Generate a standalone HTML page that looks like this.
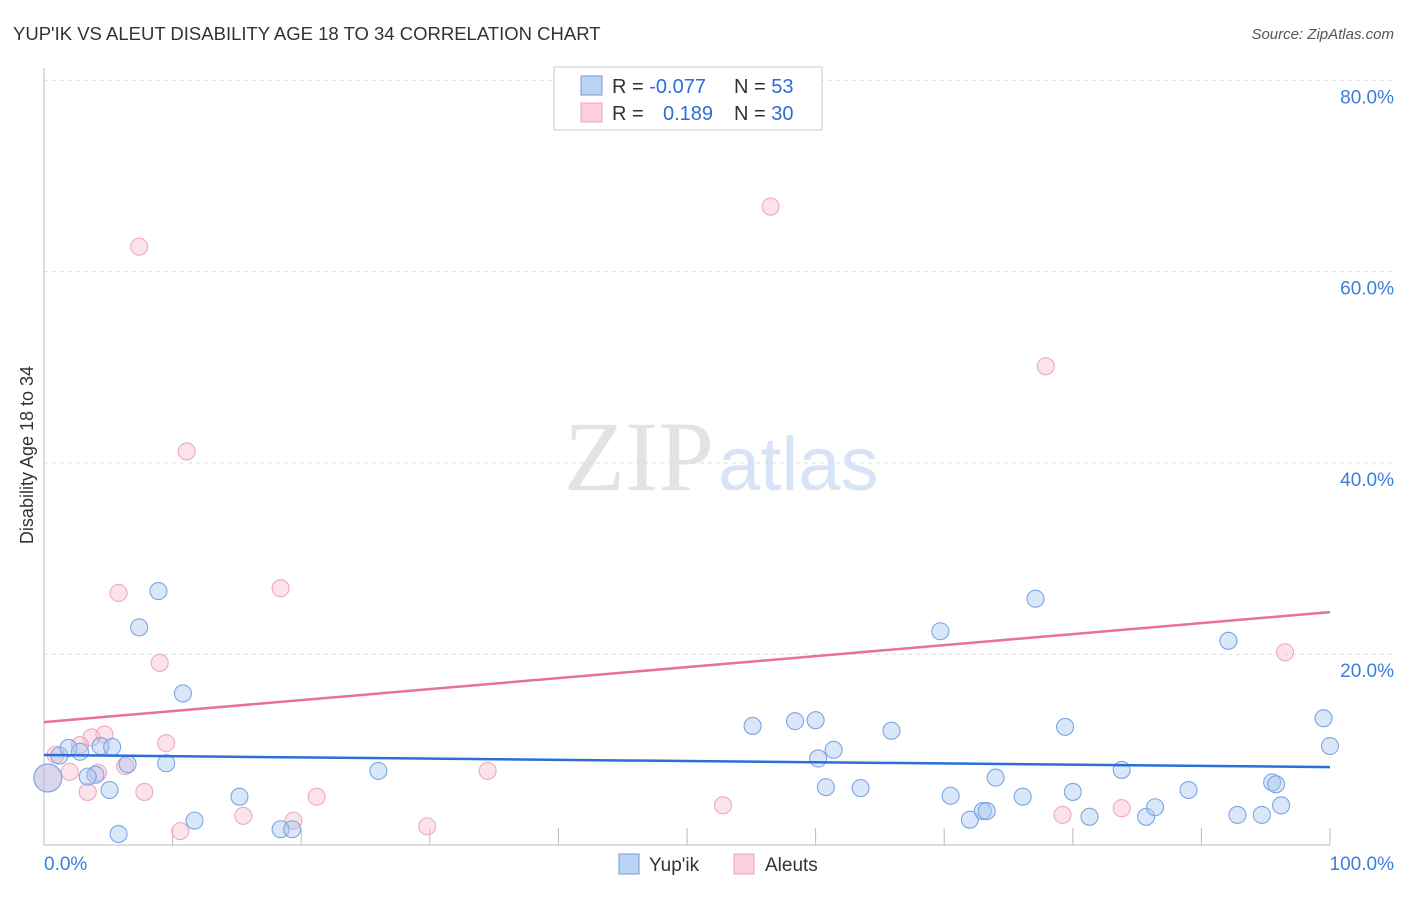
<!DOCTYPE html>
<html><head><meta charset="utf-8"><style>
body{margin:0;background:#fff;font-family:"Liberation Sans",sans-serif;}
</style></head><body>
<svg id="chart" width="1406" height="892" xmlns="http://www.w3.org/2000/svg">
<text x="13" y="40" font-size="18.5" fill="#333">YUP'IK VS ALEUT DISABILITY AGE 18 TO 34 CORRELATION CHART</text>
<text x="1394" y="39" font-size="15" fill="#555" font-style="italic" text-anchor="end">Source: ZipAtlas.com</text>
<text x="714" y="490" font-size="100" fill="#e3e3e3" text-anchor="end" font-family="Liberation Serif,serif">ZIP</text>
<text x="718" y="490" font-size="76" fill="#d6e4f5">atlas</text>
<text transform="translate(33,455) rotate(-90)" font-size="18" fill="#333" text-anchor="middle">Disability Age 18 to 34</text>
<g id="grid"></g><g id="pts"></g><g id="lines"></g>
<rect x="554" y="67" width="268" height="63" fill="#fff" stroke="#ccc"/>
<rect x="581" y="76" width="21" height="19" fill="#bcd4f4" stroke="#6b9be0"/>
<rect x="581" y="103" width="21" height="19" fill="#fbd0dc" stroke="#f0a0b8"/>
<g font-size="20" fill="#333">
<text x="612" y="93">R = <tspan fill="#2a6fd6">-0.077</tspan></text>
<text x="734" y="93">N = <tspan fill="#2a6fd6">53</tspan></text>
<text x="612" y="120">R = <tspan fill="#2a6fd6" x="663">0.189</tspan></text>
<text x="734" y="120">N = <tspan fill="#2a6fd6">30</tspan></text>
</g>
<rect x="619" y="854" width="20" height="20" fill="#bcd4f4" stroke="#6b9be0"/>
<text x="649" y="871" font-size="19" fill="#333">Yup'ik</text>
<rect x="734" y="854" width="20" height="20" fill="#fbd0dc" stroke="#f0a0b8"/>
<text x="765" y="871" font-size="19" fill="#333">Aleuts</text>
<text x="44" y="870" font-size="19" fill="#3b7ddd">0.0%</text>
<text x="1394" y="870" font-size="19" fill="#3b7ddd" text-anchor="end">100.0%</text>
</svg>
<script>
const yTicks=[20,40,60,80];
const yTickLabels=["20.0%","40.0%","60.0%","80.0%"];
const blueX=[0.3,1.2,1.9,2.8,4.4,5.3,4.0,3.4,5.1,6.5,5.8,8.9,7.4,10.8,9.5,11.7,15.2,18.4,19.3,26.0,55.1,58.4,60.0,60.2,60.8,61.4,63.5,65.9,69.7,70.5,72.0,73.0,73.3,74.0,76.1,77.1,79.4,80.0,81.3,83.8,85.7,86.4,89.0,92.1,92.8,94.7,95.5,95.8,96.2,99.5,100];
const blueY=[7.06,9.4,10.2,9.8,10.4,10.3,7.4,7.2,5.8,8.5,1.2,26.6,22.8,15.9,8.6,2.6,5.1,1.7,1.7,7.8,12.5,13.0,13.1,9.1,6.1,10.0,6.0,12.0,22.4,5.2,2.7,3.6,3.6,7.1,5.1,25.8,12.4,5.6,3.0,7.9,3.0,4.0,5.8,21.4,3.2,3.2,6.6,6.4,4.2,13.3,10.4];
const pinkX=[0.3,0.9,2.0,2.8,3.7,4.7,4.2,3.4,6.3,5.8,7.4,7.8,9.0,9.5,10.6,11.1,15.5,18.4,19.4,21.2,29.8,34.5,52.8,56.5,77.9,79.2,83.8,96.5];
const pinkY=[7.06,9.5,7.7,10.5,11.3,11.6,7.6,5.6,8.3,26.4,62.6,5.6,19.1,10.7,1.5,41.2,3.1,26.9,2.6,5.1,2.0,7.8,4.2,66.8,50.1,3.2,3.9,20.2];
const blueTrend=[9.46,8.2];
const pinkTrend=[12.9,24.4];
const NS="http://www.w3.org/2000/svg";
const xs=v=>44+v*12.86, ys=v=>845.5-v*9.565;
function mk(t,a,p){const e=document.createElementNS(NS,t);for(const k in a)e.setAttribute(k,a[k]);document.getElementById(p).appendChild(e);return e;}
yTicks.forEach((t,i)=>{
 const l=mk('line',{x1:44,x2:1394,y1:ys(t),y2:ys(t),stroke:'#ddd','stroke-dasharray':'4,4'},'grid');
 
 
 const tx=mk('text',{x:1394,y:ys(t)+23,'font-size':19,fill:'#3b7ddd','text-anchor':'end'},'grid');
 tx.textContent=yTickLabels[i];
 
 
});
for(let i=1;i<=10;i++){const l=mk('line',{x1:xs(i*10),x2:xs(i*10),y1:828,y2:845,stroke:'#bbb'},'grid');
 
 }
const ax=mk('path',{d:'M44 68V845H1330',fill:'none',stroke:'#bbb'},'grid');


function pts(X,Y,fill,stroke,name){X.forEach((x,i)=>{const big=i===0;
 const c=mk('circle',{cx:xs(x),cy:ys(Y[i]),r:big?14:8.5,fill:fill,stroke:stroke,'stroke-width':1.1},'pts');
 
 });}
pts(pinkX,pinkY,'rgba(246,175,196,0.35)','#f2a8bf','aleut-point');
pts(blueX,blueY,'rgba(160,196,240,0.4)','#7aa6e4','yupik-point');
const bl=mk('line',{x1:xs(0),x2:xs(100),y1:ys(blueTrend[0]),y2:ys(blueTrend[1]),stroke:'#2a6fd6','stroke-width':2.5},'lines');


const pl=mk('line',{x1:xs(0),x2:xs(100),y1:ys(pinkTrend[0]),y2:ys(pinkTrend[1]),stroke:'#e8709a','stroke-width':2.5},'lines');


</script>
</body></html>
